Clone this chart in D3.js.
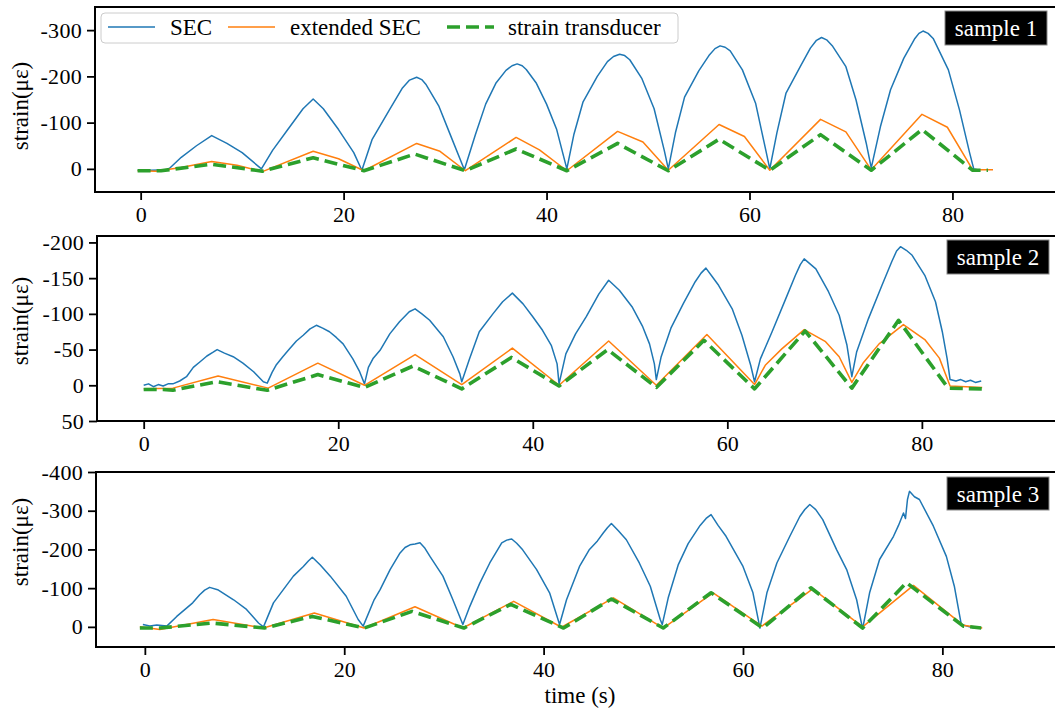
<!DOCTYPE html>
<html>
<head>
<meta charset="utf-8">
<script src="https://cdn.jsdelivr.net/npm/d3@7"></script>
<style>
  body { margin: 0; background: #fff; }
  svg { display: block; font-family: "Liberation Serif", "Times New Roman", serif; }
</style>
</head>
<body>
<svg id="chart" width="1055" height="711"></svg>
<script>
// ---- data: [time (s), strain (µε)] ----
var xTicks = [0, 20, 40, 60, 80];
var seriesNames = ["SEC", "extended SEC", "strain transducer"];
var sampleNames = ["sample 1", "sample 2", "sample 3"];

// sample 1
var sec1 = [[-0.3,3],[1,3],[2.7,2],[4,-25],[5.5,-50],[7,-72],[8.5,-55],[10,-35],[11.9,0],
  [13,-40],[14.5,-85],[16,-130],[17,-151],[18,-130],[19.5,-85],[21,-35],[21.8,3],
  [22.8,-63],[24.5,-127],[25.8,-175],[26.5,-192],[27.2,-198],[27.7,-193],[28.1,-183],[29.4,-135],[30.4,-80],[31.9,2],
  [33,-75],[34,-140],[35,-185],[36,-213],[36.6,-223],[37.1,-227],[37.6,-223],[38,-215],[39,-185],[40,-140],[41,-85],[42,0],
  [42.7,-75],[43.6,-145],[45,-200],[46,-232],[46.6,-243],[47.2,-248],[47.7,-245],[48.2,-236],[49.4,-195],[50.6,-130],[51.6,-40],[52,0],
  [52.7,-78],[53.6,-155],[55,-212],[56,-245],[56.6,-260],[57.1,-266],[57.6,-263],[58.1,-255],[59.3,-214],[60.6,-142],[61.6,-41],[62,0],
  [62.7,-78],[63.6,-164],[65,-221],[66,-261],[66.6,-278],[67.1,-284],[67.6,-279],[68.2,-265],[69.5,-221],[70.5,-149],[71.5,-56],[72,-2],
  [72.9,-91],[73.9,-171],[75.2,-239],[76.3,-282],[76.7,-293],[77.1,-298],[77.6,-293],[78.1,-282],[79.6,-214],[80.7,-127],[81.7,-34],[82.1,0],[82.5,2]];
var ext1 = [[-0.3,4],[1.5,5],[4,-3],[7,-16],[9.5,-8],[12,6],[17,-38],[19.5,-22],[22,4],
  [27.2,-55],[29.5,-38],[32,4],[37,-68],[39.3,-41],[42,4],[47,-81],[49.5,-58],[52,3],
  [57,-96],[59.5,-70],[62,3],[67,-107],[69.5,-80],[72,2],[77,-118],[79.5,-90],[82,2],[84,2]];
var trans1 = [[-0.3,4],[2,4],[7,-10],[12,5],[17,-24],[22,4],[27,-32],[32,4],[37,-43],[42,4],
  [47,-55],[52,4],[57,-64],[62,3],[67,-74],[72,3],[77,-85],[82,3],[83.5,3]];

// sample 2
var sec2 = [[0,0],[0.5,-2],[1,2],[1.5,-1],[2,1],[2.5,-2],[3,-2],[3.7,-6],[4.4,-12],[5.1,-25],[5.8,-33],[6.5,-41],[7.1,-46],[7.55,-50],
  [8.3,-45],[9.2,-40],[10.2,-31],[11.3,-19],[12.3,-5],[12.7,-3],
  [13.2,-18],[13.6,-28],[14.3,-40],[15,-51],[15.7,-62],[16.4,-70],[17.1,-79],[17.75,-84],[18.4,-80],[19.1,-75],[19.8,-67],[20.5,-58],[21.5,-37],[22.2,-19],[22.7,-2],
  [23.1,-25],[23.6,-38],[24.3,-49],[25.3,-72],[26.3,-89],[27.3,-103],[27.9,-107],[28.6,-100],
  [29.4,-91],[30.8,-68],[31.8,-40],[32.5,-16],[32.7,-5],
  [33.5,-37],[34.5,-75],[35.9,-100],[36.9,-117],[37.9,-129],[39,-114],[40,-96],[41,-77],[41.9,-56],[42.5,-30],[42.7,-2],
  [43.4,-44],[44.4,-72],[45.5,-96],[46.8,-128],[47.8,-147],[48.9,-133],[50.2,-110],[51.3,-82],[52,-58],[52.5,-30],[52.7,-8],
  [53.2,-40],[54.2,-80],[55.5,-115],[56.7,-145],[57.3,-157],[57.8,-164],[58.4,-153],[59.1,-140],[60.5,-107],[61.5,-70],[62.4,-28],[62.8,-5],
  [63.4,-37],[64.6,-75],[66,-121],[67,-154],[67.5,-169],[67.9,-177],[68.5,-170],[69.1,-163],[70.4,-131],[71.5,-98],[72.3,-56],[72.8,-12],
  [73.3,-47],[74.5,-93],[75.9,-140],[76.9,-173],[77.4,-188],[77.8,-194],[78.4,-189],[79,-182],[80.3,-154],[81.4,-117],[82.1,-75],[82.6,-37],[82.9,-8],
  [83.5,-6],[84,-8],[84.5,-5],[85,-7],[85.5,-4],[86.1,-6]];
var ext2 = [[0,5],[3,4],[7.65,-13],[12.8,4],[17.9,-31],[22.7,0],[27.9,-43],[32.7,-1],[37.9,-52],[42.7,0],
  [47.8,-62],[52.7,0],[57.9,-71],[62.8,-1],[63.9,-28],[65.6,-51],[67.9,-78],[70.1,-61],[71.5,-40],[72.8,-4],
  [74,-32],[75.6,-58],[78.1,-85],[80.3,-64],[81.8,-38],[82.9,1],[86.2,3]];
var trans2 = [[0,6],[2,6],[3,7],[7.5,-5],[12.7,7],[17.9,-15],[22.7,3],[27.7,-27],[32.7,5],[37.8,-39],[42.7,1],
  [47.7,-50],[52.7,3],[57.6,-63],[62.8,5],[68,-76],[72.8,4],[77.6,-91],[82.7,4],[86.2,5]];

// sample 3
var sec3 = [[-0.2,-6],[0.5,-2],[1.2,-5],[2.2,-2],[3.2,-27],[4.8,-62],[5.5,-83],[6,-95],[6.5,-102],[7.3,-96],[8.9,-70],[10.2,-45],[11.4,-10],[11.9,0],
  [12.9,-62],[14.9,-131],[15.9,-156],[16.4,-170],[16.8,-180],[17.6,-160],[18.6,-131],[20.2,-79],[21.4,-19],[21.9,-2],
  [23,-70],[23.6,-96],[24.6,-148],[25.6,-191],[26.1,-205],[26.6,-212],[27.1,-214],[27.6,-217],[28.1,-203],[28.6,-182],[29.9,-131],[30.9,-70],[31.9,-6],
  [32.6,-53],[33.6,-113],[34.6,-165],[35.8,-217],[36.3,-224],[36.8,-227],[37.3,-216],[37.9,-199],[39.3,-148],[40.6,-88],[41.6,-6],
  [42.3,-70],[43.6,-156],[44.6,-200],[45.4,-222],[46,-243],[46.4,-256],[46.8,-267],[47.5,-248],[48.3,-225],[49.6,-165],[50.7,-105],[51.7,-19],[51.9,-6],
  [52.5,-75],[53.5,-160],[54.5,-215],[55.7,-262],[56.3,-280],[56.8,-290],[57.5,-262],[58.3,-234],[60,-156],[61,-88],[61.7,3],
  [62.4,-88],[63.4,-165],[64.7,-234],[65.7,-285],[66.2,-303],[66.7,-316],[67.3,-303],[68,-277],[69.4,-199],[70.4,-148],[71.4,-70],[72,5],
  [72.7,-88],[73.7,-174],[75.1,-234],[75.6,-262],[76.1,-294],[76.3,-280],[76.5,-329],[76.7,-350],[77.2,-336],[77.7,-329],[79.1,-260],[80.4,-182],[81.2,-105],[81.9,-6],
  [83,2],[83.9,3]];
var ext3 = [[-0.5,0],[1.5,7],[6.85,-19],[11.9,3],[17,-36],[22,3],[27.1,-52],[31.9,3],[37,-66],[41.8,1],
  [47,-75],[52,3],[57,-88],[61.9,-2],[67,-98],[72,0],[77.1,-107],[82.1,-4],[84,3]];
var trans3 = [[-0.5,3],[1.5,3],[6.7,-10],[12,3],[16.8,-27],[22,3],[26.8,-40],[32,3],[36.7,-58],[42,3],
  [46.8,-72],[52,3],[56.8,-88],[62,3],[66.8,-101],[72,3],[76.4,-114],[82.1,-2],[83.9,3]];

var yTicks = [[-300, -200, -100, 0], [-200, -150, -100, -50, 0, 50], [-400, -300, -200, -100, 0]];
var samples = [[sec1, ext1, trans1], [sec2, ext2, trans2], [sec3, ext3, trans3]];

// ---- layout ----
var colors = ["#1f77b4", "#ff7f0e", "#2ca02c"];
var panels = [
  { xd: [-4.5, 90.6], xr: [95, 1060], yd: [50, -350], yr: [192, 7], ylab: 106, box: [945, 11, 102, 34] },
  { xd: [-4.8, 94.2], xr: [97, 1060], yd: [50, -209], yr: [421, 236], ylab: 321, box: [947, 240, 102, 34] },
  { xd: [-4.9, 91.8], xr: [96, 1060], yd: [52, -400], yr: [647, 472], ylab: 542, box: [947, 477, 102, 33] }
];

var svg = d3.select("#chart");
var fmt = function(d) { return d < 0 ? "-" + Math.abs(d) : String(d); };

panels.forEach(function(p, i) {
  var x = d3.scaleLinear().domain(p.xd).range(p.xr);
  var y = d3.scaleLinear().domain(p.yd).range(p.yr);
  var g = svg.append("g");

  g.append("clipPath").attr("id", "clip" + i)
    .append("rect")
    .attr("x", p.xr[0]).attr("y", p.yr[1])
    .attr("width", p.xr[1] - p.xr[0]).attr("height", p.yr[0] - p.yr[1]);

  var line = d3.line().x(function(d) { return x(d[0]); }).y(function(d) { return y(d[1]); });
  var lines = g.append("g").attr("clip-path", "url(#clip" + i + ")");
  samples[i].forEach(function(s, k) {
    lines.append("path")
      .datum(s)
      .attr("d", line)
      .attr("fill", "none")
      .attr("stroke", colors[k])
      .attr("stroke-width", k == 2 ? 3.6 : 1.5)
      .attr("stroke-dasharray", k == 2 ? "13,6" : null)
      .attr("stroke-linejoin", "round");
  });

  // axes
  var xAxis = g.append("g")
    .attr("transform", "translate(0," + p.yr[0] + ")")
    .call(d3.axisBottom(x).tickValues(xTicks).tickSize(8).tickPadding(6).tickFormat(fmt));
  var yAxis = g.append("g")
    .attr("transform", "translate(" + p.xr[0] + ",0)")
    .call(d3.axisLeft(y).tickValues(yTicks[i]).tickSize(8).tickPadding(5).tickFormat(fmt));
  [xAxis, yAxis].forEach(function(a) {
    a.select(".domain").remove();
    a.selectAll(".tick line").attr("stroke", "#000").attr("stroke-width", 1.8);
    a.selectAll(".tick text").attr("fill", "#000")
      .style("font-size", "22px").style("font-family", "Liberation Serif");
  });
  // slightly wider dash like the original minus sign
  yAxis.selectAll(".tick text").attr("letter-spacing", "0.3px");

  // frame
  g.append("rect")
    .attr("x", p.xr[0]).attr("y", p.yr[1])
    .attr("width", p.xr[1] - p.xr[0]).attr("height", p.yr[0] - p.yr[1])
    .attr("fill", "none").attr("stroke", "#000").attr("stroke-width", 2);

  // y label
  g.append("text")
    .attr("transform", "translate(28," + p.ylab + ") rotate(-90)")
    .attr("text-anchor", "middle")
    .style("font-size", "23px")
    .text("strain(\u03bc\u03b5)");

  // sample tag
  g.append("rect")
    .attr("x", p.box[0]).attr("y", p.box[1]).attr("width", p.box[2]).attr("height", p.box[3])
    .attr("fill", "#000").attr("stroke", "#888").attr("stroke-width", 1);
  g.append("text")
    .attr("x", p.box[0] + p.box[2] / 2).attr("y", p.box[1] + p.box[3] / 2 + 8)
    .attr("text-anchor", "middle")
    .attr("fill", "#fff")
    .style("font-size", "23px")
    .text(sampleNames[i]);
});

// x label
svg.append("text")
  .attr("x", 580).attr("y", 703)
  .attr("text-anchor", "middle")
  .style("font-size", "23px")
  .text("time (s)");

// legend (panel 1)
var leg = svg.append("g");
leg.append("rect")
  .attr("x", 101).attr("y", 13).attr("width", 577).attr("height", 30).attr("rx", 4)
  .attr("fill", "#fff").attr("fill-opacity", 0.8)
  .attr("stroke", "#ccc").attr("stroke-width", 1);
var legX = [[108, 170], [228, 290], [447, 508]];
seriesNames.forEach(function(name, k) {
  leg.append("line")
    .attr("x1", legX[k][0]).attr("x2", legX[k][0] + 47)
    .attr("y1", 27).attr("y2", 27)
    .attr("stroke", colors[k])
    .attr("stroke-width", k == 2 ? 3.6 : 1.5)
    .attr("stroke-dasharray", k == 2 ? "13,6" : null);
  leg.append("text")
    .attr("x", legX[k][1]).attr("y", 35)
    .style("font-size", "23px")
    .text(name);
});
</script>
</body>
</html>
